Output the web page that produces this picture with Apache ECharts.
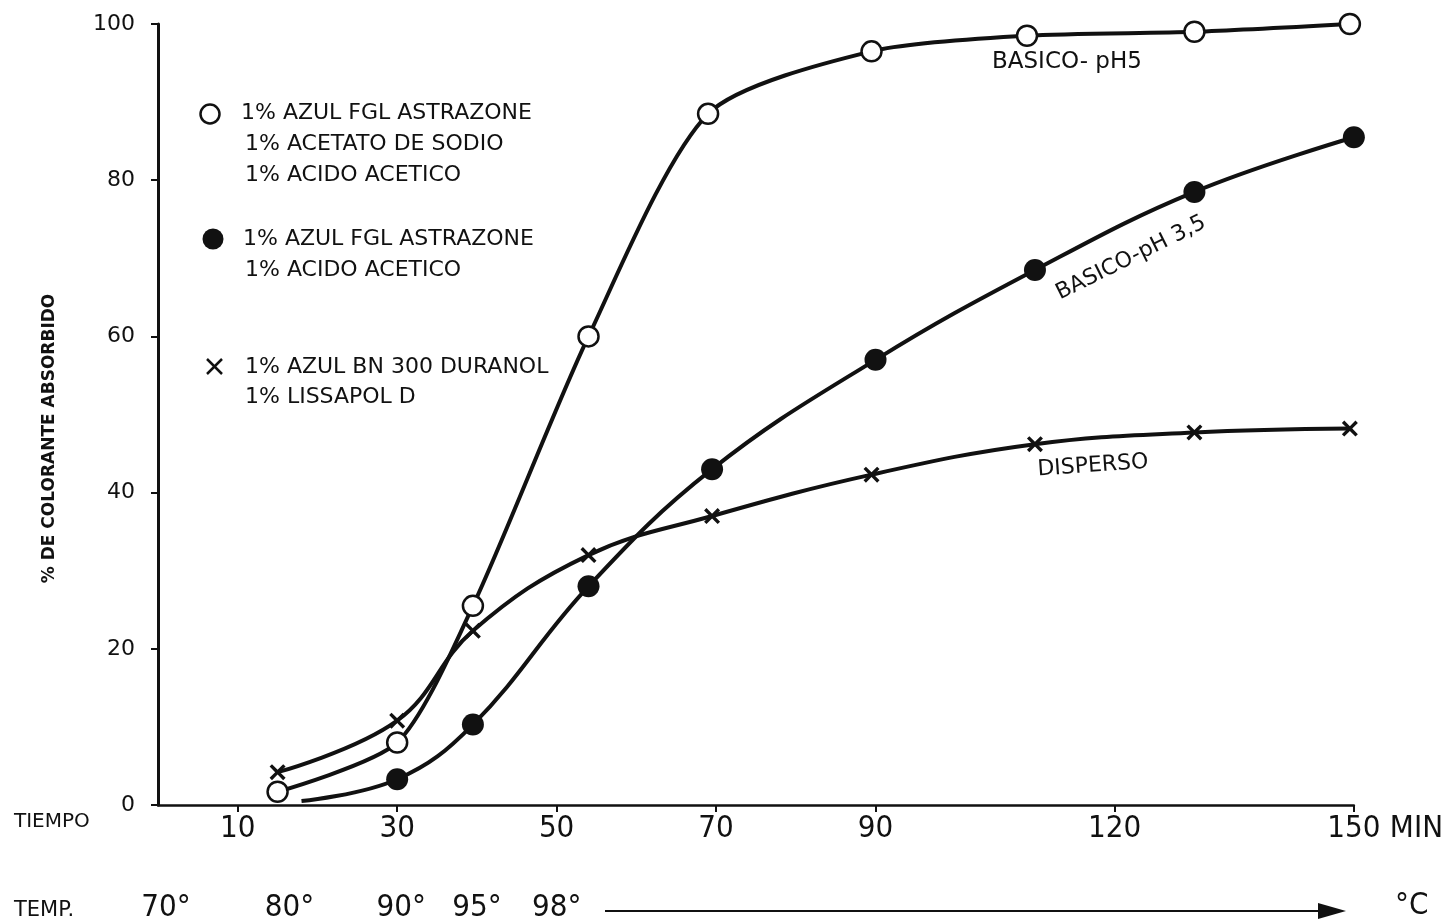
<!DOCTYPE html>
<html>
<head>
<meta charset="utf-8">
<script src="https://cdn.jsdelivr.net/npm/echarts@6/dist/echarts.min.js"></script>
<style>
  html, body { margin: 0; padding: 0; background: #fff; }
  #chart { width: 1446px; height: 923px; }
</style>
</head>
<body>
<div id="chart"></div>
<script>
// tiempo (min) y % de colorante absorbido
const basicoPh5X = [15, 30, 39.5, 54, 69, 89.5, 109, 130, 149.5]
const basicoPh5Y = [1.7, 8, 25.5, 60, 88.5, 96.5, 98.5, 99, 100]
const basicoPh35X = [18, 30, 39.5, 54, 69.5, 90, 110, 130, 150]
const basicoPh35Y = [0.5, 3.3, 10.3, 28, 43, 57, 68.5, 78.5, 85.5]
const dispersoX = [15, 30, 39.5, 54, 69.5, 89.5, 110, 130, 149.5]
const dispersoY = [4.2, 10.8, 22.3, 32, 37, 42.3, 46.2, 47.7, 48.2]

const timeTicks = [10, 30, 50, 70, 90, 120, 150]
const tempTimes = [1, 16.5, 30.5, 40, 50]
const tempLabels = ['70°', '80°', '90°', '95°', '98°']

const legendPh5 = ['1% AZUL FGL ASTRAZONE', '1% ACETATO DE SODIO', '1% ACIDO ACETICO']
const legendPh35 = ['1% AZUL FGL ASTRAZONE', '1% ACIDO ACETICO']
const legendDisperso = ['1% AZUL BN 300 DURANOL', '1% LISSAPOL D']

const INK = '#111'
const LETTER = '"DejaVu Sans", sans-serif'
const NARROW = '"Liberation Sans Narrow", "DejaVu Sans Condensed", sans-serif'
const CROSS = 'path://M0,1.5L1.5,0L5,3.5L8.5,0L10,1.5L6.5,5L10,8.5L8.5,10L5,6.5L1.5,10L0,8.5L3.5,5Z'

function pairs(xs, ys) {
  return xs.map((x, i) => [x, ys[i]])
}

const chart = echarts.init(document.getElementById('chart'))

function txt(x, y, text, opts) {
  return {
    type: 'text',
    x: x,
    y: y,
    rotation: (opts && opts.rotation) || 0,
    style: Object.assign({
      text: text,
      fill: INK,
      font: '22px ' + LETTER,
      textVerticalAlign: 'middle'
    }, opts && opts.style)
  }
}

// leyenda dibujada a mano, como en el original
const legendGraphics = []
legendPh5.forEach((t, i) => legendGraphics.push(txt(i === 0 ? 241 : 245, 113 + i * 31, t)))
legendPh35.forEach((t, i) => legendGraphics.push(txt(i === 0 ? 243 : 245, 239 + i * 31, t)))
legendDisperso.forEach((t, i) => legendGraphics.push(txt(245, 367 + i * 30, t)))
legendGraphics.push(
  { type: 'circle', shape: { cx: 210, cy: 114, r: 9.5 }, style: { fill: '#fff', stroke: INK, lineWidth: 2.5 } },
  { type: 'circle', shape: { cx: 213, cy: 239, r: 10.5 }, style: { fill: INK } },
  { type: 'line', shape: { x1: 207, y1: 359, x2: 222, y2: 374 }, style: { stroke: INK, lineWidth: 2.5 } },
  { type: 'line', shape: { x1: 222, y1: 359, x2: 207, y2: 374 }, style: { stroke: INK, lineWidth: 2.5 } }
)

const option = {
  backgroundColor: '#fff',
  animation: false,
  grid: { left: 158, right: 87, top: 24, bottom: 115 },
  xAxis: [
    {
      type: 'value',
      min: 0,
      max: 150,
      name: 'MIN',
      nameLocation: 'end',
      nameGap: 36,
      nameTextStyle: { color: INK, fontFamily: NARROW, fontSize: 31, verticalAlign: 'top', padding: [8, 0, 0, 0] },
      axisLine: { show: true, onZero: false, lineStyle: { color: INK, width: 2.5 } },
      axisTick: { show: true, length: 7, customValues: timeTicks, lineStyle: { color: INK, width: 2 } },
      axisLabel: { customValues: timeTicks, color: INK, fontFamily: NARROW, fontSize: 31, margin: 8 },
      splitLine: { show: false }
    },
    {
      type: 'value',
      min: 0,
      max: 150,
      position: 'bottom',
      offset: 87,
      axisLine: { show: false },
      axisTick: { show: false },
      axisLabel: {
        customValues: tempTimes,
        color: INK,
        fontFamily: NARROW,
        fontSize: 31,
        margin: 0,
        formatter: v => tempLabels[tempTimes.indexOf(v)]
      },
      splitLine: { show: false }
    }
  ],
  yAxis: {
    type: 'value',
    min: 0,
    max: 100,
    interval: 20,
    name: '% DE COLORANTE ABSORBIDO',
    nameLocation: 'middle',
    nameRotate: 90,
    nameGap: 100,
    nameTextStyle: { color: INK, fontFamily: LETTER, fontSize: 17, fontWeight: 'bold', padding: [0, 48, 0, 0] },
    axisLine: { show: true, lineStyle: { color: INK, width: 3 } },
    axisTick: { show: true, length: 7, lineStyle: { color: INK, width: 2 } },
    axisLabel: { color: INK, fontFamily: LETTER, fontSize: 22, margin: 23 },
    splitLine: { show: false }
  },
  series: [
    {
      name: 'BASICO- pH5',
      type: 'line',
      smooth: 0.25,
      data: pairs(basicoPh5X, basicoPh5Y),
      symbol: 'circle',
      symbolSize: 20,
      lineStyle: { color: INK, width: 4 },
      itemStyle: { color: '#fff', borderColor: INK, borderWidth: 2.5 },
      z: 4
    },
    {
      name: 'BASICO-pH 3,5',
      type: 'line',
      smooth: 0.4,
      data: pairs(basicoPh35X, basicoPh35Y).map((p, i) => i === 0 ? { value: p, symbol: 'none' } : p),
      symbol: 'circle',
      symbolSize: 22,
      lineStyle: { color: INK, width: 4 },
      itemStyle: { color: INK },
      z: 3
    },
    {
      name: 'DISPERSO',
      type: 'line',
      smooth: 0.4,
      data: pairs(dispersoX, dispersoY),
      symbol: CROSS,
      symbolSize: 16,
      lineStyle: { color: INK, width: 4 },
      itemStyle: { color: INK },
      z: 2
    }
  ],
  graphic: legendGraphics.concat([
    txt(992, 62, 'BASICO- pH5', { style: { font: '23px ' + LETTER } }),
    txt(1131, 258, 'BASICO-pH 3,5', { rotation: 0.46, style: { font: '22px ' + LETTER, textAlign: 'center' } }),
    txt(1093, 466, 'DISPERSO', { rotation: 0.07, style: { font: '22px ' + LETTER, textAlign: 'center' } }),
    txt(14, 822, 'TIEMPO', { style: { font: '20px ' + LETTER } }),
    txt(14, 911, 'TEMP.', { style: { font: '21px ' + LETTER } }),
    txt(1395, 906, '°C', { style: { font: '31px ' + NARROW } }),
    { type: 'line', shape: { x1: 605, y1: 911, x2: 1325, y2: 911 }, style: { stroke: INK, lineWidth: 2 } },
    { type: 'polygon', shape: { points: [[1318, 903], [1346, 911], [1318, 919]] }, style: { fill: INK } }
  ])
}

chart.setOption(option)
</script>
</body>
</html>
